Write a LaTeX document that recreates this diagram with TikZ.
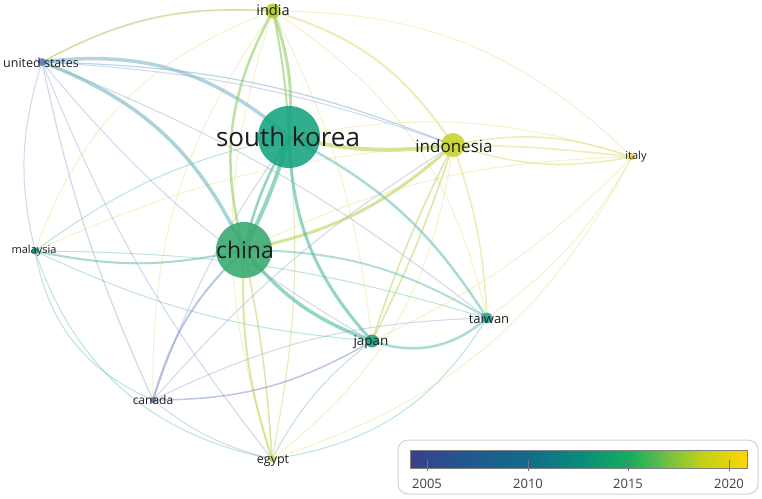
\documentclass[tikz,border=0pt]{standalone}
\usepackage{fontspec}
\setmainfont{Open Sans}
\definecolor{cSK}{HTML}{14A37F}
\definecolor{cCH}{HTML}{36A96E}
\definecolor{cIN}{HTML}{B2CC2C}
\definecolor{cID}{HTML}{C8D22A}
\definecolor{cIT}{HTML}{E6CC30}
\definecolor{cUS}{HTML}{5F78B8}
\definecolor{cMY}{HTML}{1E9C82}
\definecolor{cTW}{HTML}{1FA496}
\definecolor{cJP}{HTML}{1CA07C}
\definecolor{cCA}{HTML}{6870B0}
\definecolor{cEG}{HTML}{C0D040}
\definecolor{eBlue}{HTML}{7A90C8}
\definecolor{eBlueTeal}{HTML}{78B0C8}
\definecolor{eTeal}{HTML}{3DB594}
\definecolor{eGreen}{HTML}{8CC85A}
\definecolor{eLime}{HTML}{B4D24A}
\definecolor{eYellow}{HTML}{E2DC6A}
\definecolor{lab}{HTML}{1E1E1E}
\definecolor{b1}{HTML}{3B3F8C}
\definecolor{b2}{HTML}{21598E}
\definecolor{b3}{HTML}{116C8A}
\definecolor{b4}{HTML}{0B8B7C}
\definecolor{b5}{HTML}{16AE60}
\definecolor{b6}{HTML}{6CBF45}
\definecolor{b7}{HTML}{BDD01A}
\definecolor{b8}{HTML}{FFD500}
\newcommand\edg[5]{\draw[edge,line width=#1,draw=#2] (#3) to[#4] (#5);}
\begin{document}
\begin{tikzpicture}[x=1pt,y=1pt,
  edge/.style={line cap=round},
  vnode/.style={circle,inner sep=0pt,fill opacity=0.88,draw=none},
  vlab/.style={text=lab,inner sep=0pt,anchor=center},
  yearlab/.style={text=black!75,font=\fontsize{13}{13}\selectfont}]
\useasboundingbox (0,0) rectangle (762,-498);
\fill[white] (0,0) rectangle (762,-498);
% node centres
\coordinate (sk) at (289,-137);
\coordinate (ch) at (244,-250);
\coordinate (in) at (273,-11);
\coordinate (us) at (42,-62);
\coordinate (id) at (453,-145);
\coordinate (it) at (632,-157);
\coordinate (my) at (35,-251);
\coordinate (tw) at (487,-318);
\coordinate (jp) at (372,-341);
\coordinate (ca) at (153,-400);
\coordinate (eg) at (272,-459);
% faint edges
\begin{scope}[opacity=0.35]
\edg{1}{eYellow}{in}{bend right=15}{us}
\edg{1}{eYellow}{in}{bend right=25}{my}
\edg{1}{eYellow}{in}{bend left=10}{jp}
\edg{1}{eYellow}{in}{bend left=22}{tw}
\edg{1}{eYellow}{in}{bend right=18}{eg}
\edg{1}{eYellow}{in}{bend left=22}{it}
\edg{1}{eYellow}{in}{bend right=18}{ca}
\edg{1}{eYellow}{id}{bend right=10}{my}
\edg{1}{eBlue}{id}{bend right=8}{us}
\edg{1}{eYellow}{id}{bend left=22}{eg}
\edg{1}{eBlue}{id}{bend right=8}{ca}
\edg{1}{eTeal}{sk}{bend right=12}{my}
\edg{1}{eBlue}{sk}{bend right=8}{ca}
\edg{1.2}{eLime}{sk}{bend left=8}{eg}
\edg{1}{eYellow}{sk}{bend left=14}{it}
\edg{1}{eYellow}{ch}{bend left=12}{it}
\edg{1}{eBlue}{us}{bend right=15}{my}
\edg{1.2}{eBlue}{us}{bend right=6}{ca}
\edg{1}{eBlue}{us}{bend right=10}{jp}
\edg{1}{eBlue}{us}{bend left=8}{tw}
\edg{1}{eBlue}{us}{bend right=8}{eg}
\edg{1}{eTeal}{my}{bend right=28}{ca}
\edg{1}{eTeal}{my}{bend right=30}{eg}
\edg{1}{eTeal}{my}{bend right=10}{jp}
\edg{1}{eTeal}{my}{bend left=8}{tw}
\edg{1}{eBlue}{ca}{bend left=12}{tw}
\edg{1}{eBlue}{ca}{bend right=12}{eg}
\edg{1}{eTeal}{jp}{bend right=12}{eg}
\edg{1}{eTeal}{tw}{bend left=25}{eg}
\edg{1}{eYellow}{it}{bend left=22}{eg}
\edg{1}{eYellow}{it}{bend left=10}{jp}
\edg{1}{eYellow}{it}{bend left=12}{tw}
\end{scope}
% medium edges
\begin{scope}[opacity=0.5]
\edg{1.5}{eLime}{id}{bend left=4}{jp}
\edg{1.5}{eLime}{id}{bend right=4}{jp}
\edg{1.5}{eYellow}{id}{bend left=8}{tw}
\edg{2}{eYellow}{in}{bend left=20}{id}
\edg{1.5}{eYellow}{id}{bend left=15}{it}
\edg{1.5}{eYellow}{id}{bend right=14}{it}
\edg{1.5}{eYellow}{id}{bend left=3}{it}
\edg{2}{cTW!70!white}{ch}{bend left=15}{tw}
\edg{2}{cMY!75!white}{ch}{bend left=12}{my}
\edg{2}{eBlue}{ch}{bend right=15}{ca}
\edg{2}{eLime}{ch}{bend right=10}{eg}
\edg{1.5}{eLime}{ch}{bend left=4}{eg}
\edg{1.5}{eBlue}{ca}{bend right=15}{jp}
\edg{2.5}{cTW!75!white}{jp}{bend right=30}{tw}
\edg{2.5}{cTW!75!white}{sk}{bend left=15}{tw}
\edg{1.2}{eBlueTeal}{us}{bend left=10}{id}
\edg{1.2}{eGreen}{us}{bend left=16}{in}
\end{scope}
% strong edges
\begin{scope}[opacity=0.55]
\edg{3.5}{eBlueTeal}{us}{bend left=24}{sk}
\edg{3.5}{eBlueTeal!70!eTeal}{us}{bend left=22}{ch}
\edg{4}{eTeal}{sk}{bend left=5}{ch}
\edg{2.5}{eTeal}{sk}{bend right=8}{ch}
\edg{3}{eGreen}{in}{bend left=12}{sk}
\edg{2}{eGreen}{in}{bend left=4}{sk}
\edg{2.5}{eGreen}{in}{bend right=22}{ch}
\edg{4}{eLime}{sk}{bend right=10}{id}
\edg{3}{eLime}{ch}{bend right=15}{id}
\edg{3}{eTeal}{sk}{bend right=20}{jp}
\edg{3.5}{eTeal}{ch}{bend right=15}{jp}
\end{scope}
% nodes
\node[vnode,fill=cSK,minimum size=62pt] (nsk) at (sk) {};
\node[vnode,fill=cCH,minimum size=56pt] (nch) at (ch) {};
\node[vnode,fill=cID,minimum size=24pt] (nid) at (id) {};
\node[vnode,fill=cIN,minimum size=15pt] (nin) at (in) {};
\node[vnode,fill=cJP,minimum size=13pt] (njp) at (jp) {};
\node[vnode,fill=cTW,minimum size=11pt] (ntw) at (tw) {};
\node[vnode,fill=cUS,minimum size=8pt] (nus) at (us) {};
\node[vnode,fill=cMY,minimum size=7pt] (nmy) at (my) {};
\node[vnode,fill=cEG,minimum size=6pt] (neg) at (eg) {};
\node[vnode,fill=cCA,minimum size=6pt] (nca) at (ca) {};
\node[vnode,fill=cIT,minimum size=6pt] (nit) at (it) {};
% labels
\node[vlab,font=\fontsize{26}{26}\selectfont] (lsk) at (288,-137) {south korea};
\node[vlab,font=\fontsize{23}{23}\selectfont] (lch) at (245,-250) {china};
\node[vlab,font=\fontsize{17}{17}\selectfont] (lid) at (454,-146) {indonesia};
\node[vlab,font=\fontsize{14.5}{14.5}\selectfont] (lin) at (273,-10) {india};
\node[vlab,font=\fontsize{12.5}{12.5}\selectfont] (lus) at (41,-63) {united states};
\node[vlab,font=\fontsize{11}{11}\selectfont] (lmy) at (34,-251) {malaysia};
\node[vlab,font=\fontsize{11}{11}\selectfont] (lit) at (636,-157) {italy};
\node[vlab,font=\fontsize{13}{13}\selectfont] (ltw) at (489,-319) {taiwan};
\node[vlab,font=\fontsize{13.5}{13.5}\selectfont] (ljp) at (371,-342) {japan};
\node[vlab,font=\fontsize{12}{12}\selectfont] (lca) at (153,-400) {canada};
\node[vlab,font=\fontsize{12.5}{12.5}\selectfont] (leg) at (273,-461) {egypt};
% legend
\draw[draw=black!18,line width=1pt,rounded corners=10pt] (398,-440) rectangle (758,-494);
\shade[left color=b1,right color=b2] (410,-450) rectangle (470.5,-468);
\shade[left color=b2,right color=b3] (470,-450) rectangle (530.5,-468);
\shade[left color=b3,right color=b4] (530,-450) rectangle (580.5,-468);
\shade[left color=b4,right color=b5] (580,-450) rectangle (630.5,-468);
\shade[left color=b5,right color=b6] (630,-450) rectangle (665.5,-468);
\shade[left color=b6,right color=b7] (665,-450) rectangle (700.5,-468);
\shade[left color=b7,right color=b8] (700,-450) rectangle (747,-468);
\draw[draw=black!50,line width=0.8pt] (410,-450) rectangle (747,-468);
\foreach \xx/\yy in {427/2005,528/2010,628/2015,729/2020}{
  \draw[black!55,line width=0.8pt] (\xx,-460) -- (\xx,-471);
  \node[yearlab] at (\xx,-484) {\yy};
}
\end{tikzpicture}
\end{document}
